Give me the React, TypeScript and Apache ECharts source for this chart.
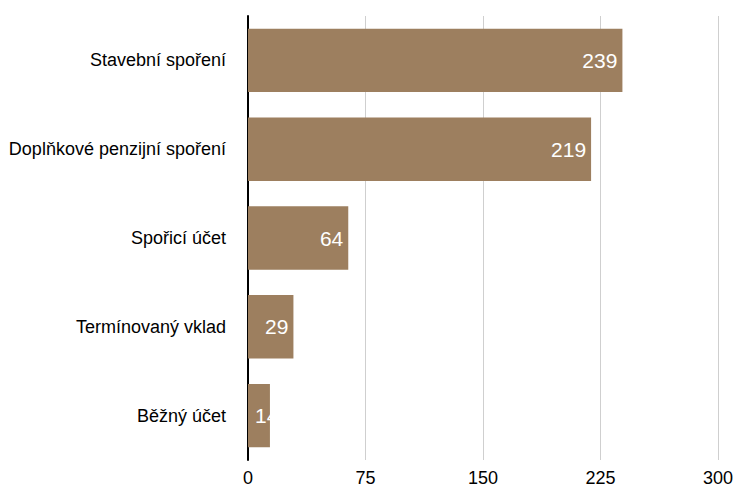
import React, { useEffect, useRef } from "react";
import * as echarts from "echarts";

const categories = [
  "Stavební spoření",
  "Doplňkové penzijní spoření",
  "Spořicí účet",
  "Termínovaný vklad",
  "Běžný účet",
];
const values = [239, 219, 64, 29, 14];
const xTicks = [0, 75, 150, 225, 300];

export default function App() {
  const ref = useRef<HTMLDivElement>(null);
  useEffect(() => {
    if (!ref.current) return;
    const chart = echarts.init(ref.current, null, { renderer: "svg" });
    const font = "'Liberation Sans', Arial, Helvetica, sans-serif";
    chart.setOption({
      animation: false,
      backgroundColor: "#ffffff",
      grid: { left: 248, right: 18, top: 16, bottom: 28, containLabel: false },
      xAxis: {
        type: "value",
        min: xTicks[0],
        max: xTicks[xTicks.length - 1],
        interval: 75,
        axisLine: { show: false },
        axisTick: { show: false },
        axisLabel: { color: "#000", fontSize: 18, fontFamily: font, margin: 9 },
        splitLine: { show: true, lineStyle: { color: "#cfcfcf", width: 1 } },
      },
      yAxis: {
        type: "category",
        data: categories,
        inverse: true,
        axisLine: { show: true, lineStyle: { color: "#000", width: 2 } },
        axisTick: { show: false },
        axisLabel: { color: "#000", fontSize: 18, fontFamily: font, margin: 22 },
      },
      series: [
        {
          type: "bar",
          data: values.map((v) =>
            v < 20
              ? { value: v, label: { position: "insideLeft", distance: 7 } }
              : v
          ),
          barCategoryGap: "28.6%",
          itemStyle: { color: "#9d7f5f" },
          label: {
            show: true,
            position: "insideRight",
            distance: 5,
            color: "#ffffff",
            fontSize: 21,
            fontFamily: font,
          },
        },
      ],
    });
    return () => chart.dispose();
  }, []);
  return (
    <div
      ref={ref}
      style={{ position: "fixed", left: 0, top: 0, width: 736, height: 488 }}
    />
  );
}
